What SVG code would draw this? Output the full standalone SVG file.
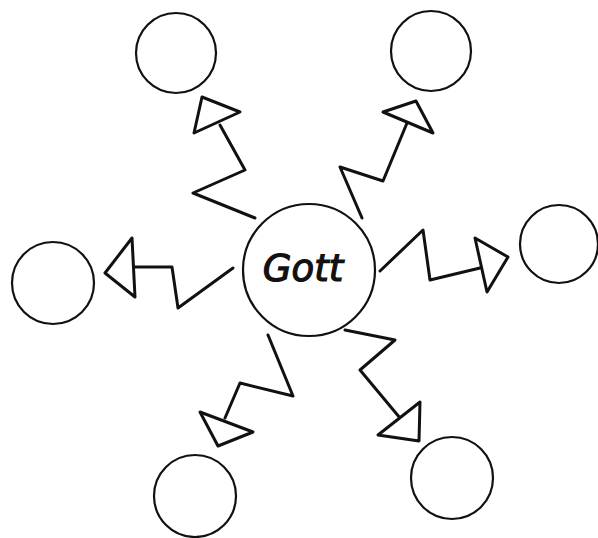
<svg xmlns="http://www.w3.org/2000/svg" width="598" height="538" viewBox="0 0 598 538">
<style>
.node{fill:#fff;stroke:#111;stroke-width:2.2}
.conn{fill:none;stroke:#111;stroke-width:3;stroke-linejoin:round;stroke-linecap:round}
.head{fill:#fff;stroke:#111;stroke-width:3;stroke-linejoin:round}
.lbl{font-family:"DejaVu Sans",sans-serif;font-size:37px;font-style:italic;fill:#111;stroke:#111;stroke-width:1.2;text-anchor:middle}
</style>
<rect width="598" height="538" fill="#fff"/>
<g id="connectors">
<polyline class="conn" points="255,218 193,193 245,170 220,125"/>
<polygon class="head" points="202,97 240,112 194,133"/>
<polyline class="conn" points="362,218 340,167 383,181 407,123"/>
<polygon class="head" points="383,112 416,101 433,133"/>
<polyline class="conn" points="233,268 178,308 172,267 135,267"/>
<polygon class="head" points="132,238 105,273 135,297"/>
<polyline class="conn" points="380,271 423,230 430,280 480,268"/>
<polygon class="head" points="475,238 508,257 487,292"/>
<polyline class="conn" points="268,335 293,396 240,383 225,418"/>
<polygon class="head" points="200,412 253,432 218,446"/>
<polyline class="conn" points="345,330 395,340 360,370 400,418"/>
<polygon class="head" points="420,402 419,441 378,435"/>
</g>
<g id="gott">
<circle class="node" cx="309" cy="270" r="66"/>
<text class="lbl" x="303" y="281">Gott</text>
</g>
<g id="n-topleft"><circle class="node" cx="176" cy="53" r="40"/></g>
<g id="n-topright"><circle class="node" cx="431" cy="51" r="40"/></g>
<g id="n-right"><circle class="node" cx="559" cy="244" r="39"/></g>
<g id="n-left"><circle class="node" cx="53" cy="283" r="41"/></g>
<g id="n-bottomleft"><circle class="node" cx="195" cy="496" r="41"/></g>
<g id="n-bottomright"><circle class="node" cx="452" cy="478" r="41"/></g>
</svg>
